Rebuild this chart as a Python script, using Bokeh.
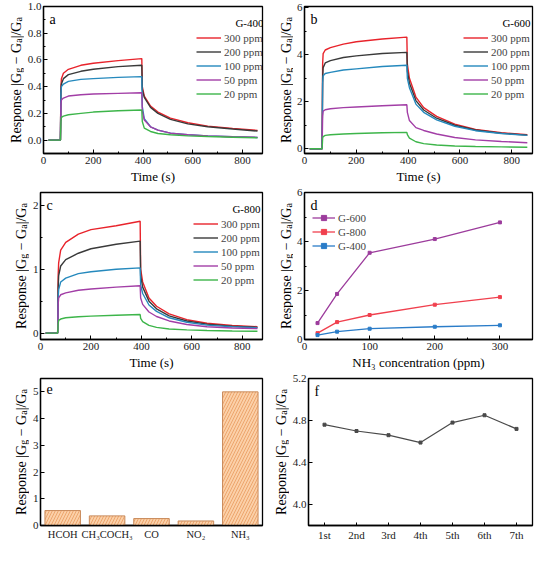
from math import pi
from bokeh.plotting import figure
from bokeh.models import (Range1d, FactorRange, SingleIntervalTicker, Label, Legend,
                          LegendItem, PrintfTickFormatter)
from bokeh.core.properties import value
from bokeh.layouts import row, column
from bokeh.embed import file_html
from bokeh.resources import INLINE

FONT = "Liberation Serif"

# ---------------- data ----------------
t = [20, 68, 70, 72, 80, 100, 150, 200, 300, 395, 397, 405, 430, 460, 510, 580, 660, 760, 860]
conc_labels = ["300 ppm", "200 ppm", "100 ppm", "50 ppm", "20 ppm"]

g400_300 = [0, 0, 0.40, 0.46, 0.50, 0.53, 0.56, 0.575, 0.595, 0.61, 0.40, 0.33, 0.255, 0.21, 0.165, 0.13, 0.105, 0.088, 0.073]
g400_200 = [0, 0, 0.37, 0.42, 0.46, 0.49, 0.515, 0.53, 0.55, 0.56, 0.38, 0.32, 0.245, 0.20, 0.155, 0.122, 0.10, 0.083, 0.068]
g400_100 = [0, 0, 0.35, 0.40, 0.42, 0.44, 0.455, 0.46, 0.47, 0.475, 0.25, 0.16, 0.10, 0.075, 0.052, 0.04, 0.032, 0.025, 0.02]
g400_50 = [0, 0, 0.27, 0.30, 0.315, 0.33, 0.34, 0.345, 0.35, 0.355, 0.22, 0.15, 0.10, 0.075, 0.052, 0.04, 0.032, 0.025, 0.021]
g400_20 = [0, 0, 0.14, 0.17, 0.18, 0.19, 0.20, 0.21, 0.22, 0.225, 0.14, 0.09, 0.065, 0.05, 0.04, 0.032, 0.027, 0.022, 0.017]

g600_300 = [0, 0, 3.6, 4.05, 4.2, 4.3, 4.45, 4.55, 4.67, 4.75, 3.6, 3.0, 2.2, 1.75, 1.38, 1.05, 0.82, 0.68, 0.6]
g600_200 = [0, 0, 3.0, 3.45, 3.65, 3.75, 3.88, 3.95, 4.05, 4.1, 3.3, 2.8, 2.05, 1.65, 1.3, 1.0, 0.8, 0.66, 0.58]
g600_100 = [0, 0, 2.8, 3.1, 3.2, 3.25, 3.35, 3.4, 3.5, 3.55, 3.0, 2.6, 1.9, 1.55, 1.23, 0.96, 0.77, 0.65, 0.57]
g600_50 = [0, 0, 1.4, 1.6, 1.66, 1.7, 1.75, 1.78, 1.83, 1.87, 1.55, 1.2, 0.9, 0.78, 0.63, 0.48, 0.38, 0.31, 0.26]
g600_20 = [0, 0, 0.45, 0.52, 0.57, 0.6, 0.63, 0.65, 0.68, 0.7, 0.6, 0.45, 0.3, 0.22, 0.16, 0.12, 0.1, 0.08, 0.065]

g800_300 = [0, 0, 0.9, 1.1, 1.3, 1.42, 1.55, 1.62, 1.68, 1.75, 1.0, 0.8, 0.55, 0.42, 0.3, 0.21, 0.155, 0.12, 0.1]
g800_200 = [0, 0, 0.7, 0.9, 1.05, 1.15, 1.25, 1.32, 1.39, 1.44, 0.9, 0.72, 0.5, 0.38, 0.27, 0.19, 0.14, 0.11, 0.09]
g800_100 = [0, 0, 0.55, 0.68, 0.8, 0.86, 0.93, 0.96, 1.0, 1.02, 0.75, 0.62, 0.44, 0.34, 0.24, 0.17, 0.125, 0.1, 0.085]
g800_50 = [0, 0, 0.45, 0.55, 0.6, 0.63, 0.67, 0.69, 0.72, 0.74, 0.55, 0.45, 0.33, 0.26, 0.19, 0.135, 0.1, 0.08, 0.07]
g800_20 = [0, 0, 0.15, 0.2, 0.22, 0.24, 0.255, 0.265, 0.28, 0.29, 0.23, 0.18, 0.12, 0.09, 0.065, 0.05, 0.04, 0.033, 0.028]

conc = [20, 50, 100, 200, 300]
d_g600 = [0.67, 1.86, 3.54, 4.1, 4.78]
d_g800 = [0.26, 0.71, 1.0, 1.42, 1.73]
d_g400 = [0.18, 0.32, 0.44, 0.52, 0.58]

gases = ["HCOH", "CH\u2083COCH\u2083", "CO", "NO\u2082", "NH\u2083"]
gas_resp = [0.56, 0.36, 0.26, 0.17, 5.0]

cycles = ["1st", "2nd", "3rd", "4th", "5th", "6th", "7th"]
cycle_resp = [4.76, 4.70, 4.66, 4.59, 4.78, 4.85, 4.72]

CURVE_COLORS = ["#e8232b", "#3a3a3a", "#2589bd", "#a23ea6", "#3db54a"]

# ---------------- helpers ----------------
TW = {'R': 667, 'e': 444, 's': 389, 'p': 500, 'o': 500, 'n': 500, ' ': 250, '|': 200,
      'G': 722, 'g': 500, '\u2212': 564, 'a': 444, '/': 278}


def tw(s, size):
    return sum(TW[c] for c in s) * size / 1000.0


ROW1 = dict(h=186, bt=6, bb=33)
ROW2 = dict(h=186, bt=6, bb=33)
ROW3 = dict(h=173, bt=6, bb=20)
FH = 147


def make_fig(w, h, bl, br, bt, bb, x_range, y_range):
    p = figure(width=w, height=h, x_range=x_range, y_range=y_range,
               output_backend="svg", toolbar_location=None,
               min_border_left=bl, min_border_right=br,
               min_border_top=bt, min_border_bottom=bb)
    p.grid.visible = False
    p.outline_line_color = "black"
    p.outline_line_width = 1.3
    p.background_fill_color = "white"
    p.border_fill_color = "white"
    for ax in list(p.xaxis) + list(p.yaxis):
        ax.axis_line_color = "black"
        ax.axis_line_width = 1.3
        ax.major_tick_in = 4
        ax.major_tick_out = 0
        ax.minor_tick_in = 2
        ax.minor_tick_out = 0
        ax.major_tick_line_color = "black"
        ax.minor_tick_line_color = "black"
        ax.major_label_text_font = FONT
        ax.major_label_text_font_size = "11px"
        ax.major_label_text_color = "#1a1a1a"
        ax.major_label_standoff = 3
        ax.axis_label_text_font = FONT
        ax.axis_label_text_font_size = "13px"
        ax.axis_label_text_font_style = "normal"
        ax.axis_label_text_color = "black"
        ax.axis_label_standoff = 2
    p.yaxis.major_label_standoff = 2
    return p


def ylabel_fig(lw, baseline, rowd, size=14, sub=10):
    """Narrow figure holding the rotated y-axis title with real subscripts."""
    q = figure(width=lw, height=rowd["h"], x_range=Range1d(0, lw), y_range=Range1d(0, FH),
               output_backend="svg", toolbar_location=None,
               x_axis_location=None, y_axis_location=None,
               min_border_left=0, min_border_right=0,
               min_border_top=rowd["bt"], min_border_bottom=rowd["bb"])
    q.grid.visible = False
    q.outline_line_color = None
    q.background_fill_color = "white"
    q.border_fill_color = "white"
    seq = [("Response |G", 0, size), ("g", 1, sub), (" ", None, size), ("\u2212", 0, size),
           (" ", None, size), ("G", 0, size), ("a", 1, sub), ("|/G", 0, size), ("a", 1, sub)]
    total = sum(tw(s, fs) for s, k, fs in seq)
    y = (FH - total) / 2.0
    main_x, main_y, main_t, sub_x, sub_y, sub_t = [], [], [], [], [], []
    for s, k, fs in seq:
        if k == 0:
            main_x.append(baseline); main_y.append(y); main_t.append(s)
        elif k == 1:
            sub_x.append(baseline + 2.5); sub_y.append(y); sub_t.append(s)
        y += tw(s, fs)
    q.text(x=main_x, y=main_y, text=main_t, angle=pi / 2, text_font=value(FONT),
           text_font_size=f"{size}px", text_align="left", text_baseline="alphabetic",
           text_color="black")
    q.text(x=sub_x, y=sub_y, text=sub_t, angle=pi / 2, text_font=value(FONT),
           text_font_size=f"{sub}px", text_align="left", text_baseline="alphabetic",
           text_color="black")
    return q


def add_letter(p, letter):
    p.add_layout(Label(x=6, y=FH - 5, x_units="screen", y_units="screen", text=letter,
                       text_font=FONT, text_font_size="14px", text_baseline="top",
                       text_align="left", text_color="black"))


def response_panel(w, bl, br, rowd, series, name, letter, ymin, ymax, yint, fmt):
    p = make_fig(w, rowd["h"], bl, br, rowd["bt"], rowd["bb"],
                 Range1d(0, 880), Range1d(ymin, ymax))
    p.xaxis.ticker = SingleIntervalTicker(interval=200, num_minor_ticks=2)
    p.yaxis.ticker = SingleIntervalTicker(interval=yint, num_minor_ticks=2)
    if fmt:
        p.yaxis.formatter = PrintfTickFormatter(format=fmt)
    p.xaxis.axis_label = "Time (s)"
    items = []
    for ys, c, lab in zip(series, CURVE_COLORS, conc_labels):
        r = p.line(t, ys, line_color=c, line_width=1.4)
        items.append(LegendItem(label=lab, renderers=[r]))
    fw = w - bl - br
    leg = Legend(items=items, location=(fw - 69, FH - 23 - 71), glyph_width=25,
                 glyph_height=13, label_height=13, spacing=1, padding=1, margin=0,
                 label_standoff=3, label_text_font=FONT, label_text_font_size="11px",
                 border_line_color=None, background_fill_alpha=0)
    p.add_layout(leg)
    p.add_layout(Label(x=fw - 2, y=FH - 16, x_units="screen", y_units="screen",
                       text=name, text_font=FONT, text_font_size="11px",
                       text_align="right", text_baseline="middle", text_color="black"))
    add_letter(p, letter)
    return p


pa = response_panel(241, 16, 3, ROW1, [g400_300, g400_200, g400_100, g400_50, g400_20],
                    "G-400", "a", -0.1, 1.0, 0.2, "%.1f")
pb = response_panel(241, 11, 2, ROW1, [g600_300, g600_200, g600_100, g600_50, g600_20],
                    "G-600", "b", -0.2, 6.05, 2, None)
pc = response_panel(236, 11, 3, ROW2, [g800_300, g800_200, g800_100, g800_50, g800_20],
                    "G-800", "c", -0.1, 2.2, 1, None)

# panel d
pd = make_fig(241, ROW2["h"], 11, 2, ROW2["bt"], ROW2["bb"], Range1d(0, 350), Range1d(0, 6))
pd.xaxis.ticker = SingleIntervalTicker(interval=100, num_minor_ticks=2)
pd.yaxis.ticker = SingleIntervalTicker(interval=2, num_minor_ticks=2)
pd.xaxis.axis_label = "NH\u2083 concentration (ppm)"
d_items = []
for ys, c, lab in [(d_g600, "#9c3c9c", "G-600"), (d_g800, "#f0404e", "G-800"),
                   (d_g400, "#2a7cc8", "G-400")]:
    rl = pd.line(conc, ys, line_color=c, line_width=1.3)
    rs = pd.scatter(conc, ys, marker="square", size=3, fill_color=c, line_color=c)
    d_items.append(LegendItem(label=lab, renderers=[rl, rs]))
pd.add_layout(Legend(items=d_items, location=(8, FH - 19 - 41), glyph_width=23,
                     glyph_height=13, label_height=13, spacing=1, padding=0, margin=0,
                     label_standoff=3, label_text_font=FONT, label_text_font_size="11px",
                     border_line_color=None, background_fill_alpha=0))
add_letter(pd, "d")

# panel e
pe = make_fig(236, ROW3["h"], 11, 3, ROW3["bt"], ROW3["bb"],
              FactorRange(factors=gases), Range1d(0, 5.5))
pe.yaxis.ticker = SingleIntervalTicker(interval=1, num_minor_ticks=0)
pe.vbar(x=gases, top=gas_resp, width=0.8, fill_color="#fbd0a8", line_color="#c98b5c",
        line_width=1, hatch_pattern="/", hatch_color="#e89a5e", hatch_scale=6,
        hatch_weight=0.8)
pe.xaxis.major_tick_in = 0
pe.xaxis.major_label_text_font_size = "10.5px"
add_letter(pe, "e")

# panel f
pf = make_fig(245, ROW3["h"], 16, 2, ROW3["bt"], ROW3["bb"],
              FactorRange(factors=cycles), Range1d(3.8, 5.2))
pf.yaxis.ticker = SingleIntervalTicker(interval=0.4, num_minor_ticks=0)
pf.yaxis.formatter = PrintfTickFormatter(format="%.1f")
pf.line(cycles, cycle_resp, line_color="#4a4a4a", line_width=1.2)
pf.scatter(cycles, cycle_resp, marker="square", size=3, fill_color="#4a4a4a",
           line_color="#4a4a4a")
pf.xaxis.major_tick_in = 3
add_letter(pf, "f")

la = ylabel_fig(24, 15.5, ROW1)
lb = ylabel_fig(28, 20.5, ROW1)
lc = ylabel_fig(29, 20.5, ROW2)
ld = ylabel_fig(28, 20.5, ROW2)
le = ylabel_fig(29, 20.5, ROW3)
lf = ylabel_fig(24, 15.5, ROW3)

layout = column(row(la, pa, lb, pb), row(lc, pc, ld, pd), row(le, pe, lf, pf))

open("out.html", "w").write(file_html(layout, INLINE))
